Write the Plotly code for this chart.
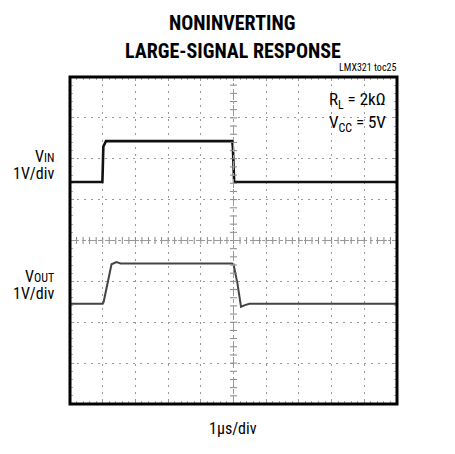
import numpy as np
import plotly.graph_objects as go

# time in µs (1 µs/div), values in divisions (1 V/div), screen centre = 0
vin_t = [0.0, 0.99, 1.00, 1.02, 1.10, 4.96, 4.98, 5.00, 5.02, 10.0]
vin_v = [1.43, 1.43, 1.70, 2.30, 2.43, 2.43, 2.30, 1.60, 1.43, 1.43]

vout_t = [0.0, 1.00, 1.03, 1.27, 1.42, 1.55, 4.96, 5.00, 5.12, 5.23, 5.35, 5.49, 10.0]
vout_v = [-1.55, -1.55, -1.50, -0.58, -0.53, -0.56, -0.56, -0.58, -1.05, -1.62, -1.58, -1.55, -1.55]

FONT = "Liberation Sans Narrow, Roboto Condensed, Arial Narrow, sans-serif"

OFF = 8  # browser body margin
W, H = 455 - OFF, 454 - OFF
L, R, T, B = 70 - OFF, 397 - OFF, 77 - OFF, 404 - OFF

fig = go.Figure()
fig.add_trace(go.Scatter(x=vin_t, y=vin_v, mode="lines",
                         line=dict(color="#111111", width=2.6), hoverinfo="skip"))
fig.add_trace(go.Scatter(x=vout_t, y=vout_v, mode="lines",
                         line=dict(color="#444444", width=2.0), hoverinfo="skip"))

# centre cross ticks
cx = np.round(np.arange(0, 10.001, 0.2), 3)
cy = np.round(np.arange(-4, 4.001, 0.2), 3)
fig.add_trace(go.Scatter(x=cx, y=[0]*len(cx), mode="markers",
                         marker=dict(symbol="line-ns", size=5, line=dict(color="#888888", width=1)),
                         hoverinfo="skip"))
fig.add_trace(go.Scatter(x=[5]*len(cy), y=cy, mode="markers",
                         marker=dict(symbol="line-ew", size=5, line=dict(color="#888888", width=1)),
                         hoverinfo="skip"))

axis_common = dict(showticklabels=False, ticks="inside", ticklen=4, tickcolor="#999999",
                   tickwidth=1, dtick=1, showgrid=True, gridcolor="#999999", griddash="2px,5px",
                   gridwidth=1, zeroline=False, mirror="ticks", showline=False,
                   minor=dict(dtick=0.2, ticks="inside", ticklen=3, tickcolor="#aaaaaa", showgrid=False))
fig.update_xaxes(range=[0, 10], tick0=0, **axis_common)
fig.update_yaxes(range=[-4, 4], tick0=-4, **axis_common)

fig.add_shape(type="line", x0=0, x1=10, y0=0, y1=0, line=dict(color="#999999", width=1, dash="dashdot"))
fig.add_shape(type="line", x0=5, x1=5, y0=-4, y1=4, line=dict(color="#999999", width=1, dash="dashdot"))
fig.add_shape(type="rect", xref="paper", yref="paper", x0=0, x1=1, y0=0, y1=1,
              line=dict(color="black", width=3))

def px(x):
    return (x - OFF - L) / (R - L)

def py(y):
    return (B - (y - OFF)) / (B - T)

SUB = "<span style='font-size:12px'>{}</span>"
ann = []
ann.append(dict(text="<b>NONINVERTING</b>", x=px(232), y=py(23), font=dict(size=20)))
ann.append(dict(text="<b>LARGE-SIGNAL RESPONSE</b>", x=px(233), y=py(51), font=dict(size=20)))
ann.append(dict(text="LMX321 toc25", x=px(398), y=py(68), xanchor="right", font=dict(size=10)))
ann.append(dict(text="R<sub>L</sub> = 2kΩ", x=px(388), y=py(100), xanchor="right", font=dict(size=17)))
ann.append(dict(text="V<sub>CC</sub> = 5V", x=px(388), y=py(123), xanchor="right", font=dict(size=17)))
ann.append(dict(text="V" + SUB.format("IN"), x=px(56), y=py(156), xanchor="right", font=dict(size=16)))
ann.append(dict(text="1V/div", x=px(56), y=py(173), xanchor="right", font=dict(size=16)))
ann.append(dict(text="V" + SUB.format("OUT"), x=px(56), y=py(276), xanchor="right", font=dict(size=16)))
ann.append(dict(text="1V/div", x=px(56), y=py(293.5), xanchor="right", font=dict(size=16)))
ann.append(dict(text="1µs/div", x=px(233), y=py(429), font=dict(size=16)))
for a in ann:
    a.update(xref="paper", yref="paper", showarrow=False, yanchor="middle")
    a.setdefault("xanchor", "center")
    a["font"].update(family=FONT, color="black")
fig.update_layout(annotations=ann)

fig.update_layout(width=W, height=H, margin=dict(l=L, r=W - R, t=T, b=H - B),
                  plot_bgcolor="white", paper_bgcolor="white", showlegend=False,
                  font=dict(family=FONT))

fig.write_html("out.html")
